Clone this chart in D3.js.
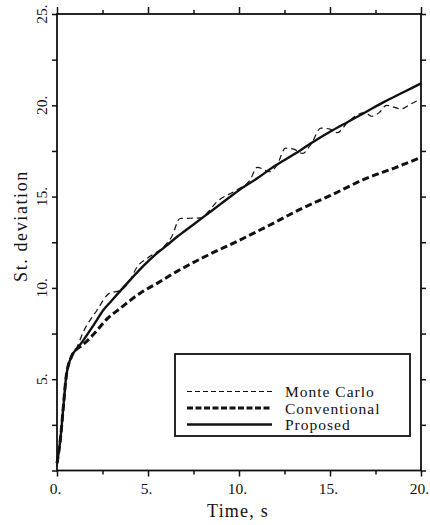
<!DOCTYPE html>
<html>
<head>
<meta charset="utf-8">
<script src="https://cdn.jsdelivr.net/npm/d3@7"></script>
<style>
  html, body { margin: 0; padding: 0; background: #fff; }
  svg { display: block; }
  text { font-family: "Liberation Serif", "DejaVu Serif", serif; fill: #111; }
</style>
</head>
<body>
<svg id="chart" width="430" height="525"></svg>
<script>
// Time axis (s) and standard deviation of the response for each method
const proposedTime = [0, 0.2, 0.35, 0.5, 0.8, 1.05, 1.2, 2, 2.56, 3, 3.85, 5, 5.5, 6, 6.6, 7, 8, 9, 10, 11, 12, 13, 14, 15, 16, 17, 18, 19, 20];
const proposedSd   = [0.4, 1.85, 3.5, 5.1, 6.25, 6.62, 6.8, 7.95, 8.8, 9.3, 10.25, 11.45, 11.9, 12.3, 12.8, 13.1, 13.85, 14.6, 15.35, 16.0, 16.7, 17.3, 17.95, 18.55, 19.1, 19.65, 20.2, 20.7, 21.2];

const conventionalTime = [0, 0.2, 0.35, 0.5, 0.8, 1.05, 1.3, 1.6, 2, 2.75, 3.5, 4.55, 5.5, 6.5, 8, 10, 12, 13.35, 15, 17, 18.5, 20];
const conventionalSd   = [0.4, 1.85, 3.5, 5.1, 6.25, 6.62, 6.8, 7.05, 7.45, 8.3, 8.9, 9.7, 10.25, 10.85, 11.65, 12.6, 13.6, 14.3, 15.05, 16.0, 16.55, 17.15];

const monteCarloTime = [0, 0.2, 0.35, 0.5, 0.8, 1.05, 1.45, 2.18, 2.9, 3.45, 3.95, 4.4, 5.0, 5.86, 6.3, 6.76, 7.86, 8.22, 8.77, 9.87, 10.6, 11.0, 11.7, 12.1, 12.55, 13.0, 13.5, 14.0, 14.5, 15.0, 15.4, 16.0, 16.9, 17.3, 17.7, 18.1, 18.5, 18.9, 19.4, 20];
const monteCarloSd   = [0.2, 1.85, 3.5, 5.1, 6.25, 6.65, 7.6, 8.75, 9.72, 9.85, 10.3, 11.15, 11.65, 12.25, 12.8, 13.8, 13.83, 14.08, 14.7, 15.36, 15.9, 16.6, 16.36, 16.75, 17.65, 17.6, 17.37, 17.95, 18.75, 18.7, 18.5, 19.1, 19.6, 19.4, 19.6, 20.0, 19.9, 19.8, 20.05, 20.35];

const xMajorTicks = [0, 5, 10, 15, 20];
const xMinorTicks = [2.5, 7.5, 12.5, 17.5];
const yMajorTicks = [0, 5, 10, 15, 20, 25];
const yLabelTicks = [5, 10, 15, 20, 25];
const yMinorTicks = [2.5, 7.5, 12.5, 17.5, 22.5];

const seriesNames = ["Monte Carlo", "Conventional", "Proposed"];

const svg = d3.select("#chart");
const plotLeft = 57, plotRight = 421, plotTop = 14, plotBottom = 470.5;

const x = d3.scaleLinear().domain([0, 20]).range([plotLeft, plotRight]);
const y = d3.scaleLinear().domain([0, 25]).range([plotBottom, plotTop]);

const ink = "#111";
const fmt = d => d + ".";

// frame
svg.append("rect")
  .attr("x", plotLeft).attr("y", plotTop)
  .attr("width", plotRight - plotLeft).attr("height", plotBottom - plotTop)
  .attr("fill", "none").attr("stroke", ink).attr("stroke-width", 1.8);

function styleAxis(g) {
  g.select(".domain").remove();
  g.selectAll(".tick line").attr("stroke", ink).attr("stroke-width", 1.5);
}

// bottom axis with labels
svg.append("g").attr("transform", `translate(0,${plotBottom})`)
  .call(d3.axisBottom(x).tickValues(xMajorTicks).tickSize(6).tickPadding(6).tickFormat(fmt))
  .call(styleAxis)
  .call(g => g.selectAll("text").attr("font-size", 15.5).attr("dx", -2)
      .attr("font-family", "Liberation Serif").attr("fill", ink));
svg.append("g").attr("transform", `translate(0,${plotBottom})`)
  .call(d3.axisBottom(x).tickValues(xMinorTicks).tickSize(4).tickFormat(""))
  .call(styleAxis);

// top axis ticks
svg.append("g").attr("transform", `translate(0,${plotTop})`)
  .call(d3.axisTop(x).tickValues(xMajorTicks).tickSize(7).tickFormat(""))
  .call(styleAxis);
svg.append("g").attr("transform", `translate(0,${plotTop})`)
  .call(d3.axisTop(x).tickValues(xMinorTicks).tickSize(4).tickFormat(""))
  .call(styleAxis);

// left axis ticks
svg.append("g").attr("transform", `translate(${plotLeft},0)`)
  .call(d3.axisLeft(y).tickValues(yMajorTicks).tickSize(5).tickFormat(""))
  .call(styleAxis);
svg.append("g").attr("transform", `translate(${plotLeft},0)`)
  .call(d3.axisLeft(y).tickValues(yMinorTicks).tickSize(5).tickFormat(""))
  .call(styleAxis);

// left axis labels, rotated
svg.append("g").selectAll("text").data(yLabelTicks).join("text")
  .attr("transform", d => `translate(47,${y(d)}) rotate(-90)`)
  .attr("text-anchor", "middle")
  .attr("font-size", 15.5)
  .text(fmt);

// right axis ticks
svg.append("g").attr("transform", `translate(${plotRight},0)`)
  .call(d3.axisRight(y).tickValues(yMajorTicks).tickSize(5).tickFormat(""))
  .call(styleAxis);
svg.append("g").attr("transform", `translate(${plotRight},0)`)
  .call(d3.axisRight(y).tickValues(yMinorTicks).tickSize(5).tickFormat(""))
  .call(styleAxis);

// axis titles
svg.append("text")
  .attr("x", 238).attr("y", 517)
  .attr("text-anchor", "middle")
  .attr("font-size", 18).attr("letter-spacing", 1.2)
  .text("Time, s");
svg.append("text")
  .attr("transform", "translate(27,226) rotate(-90)")
  .attr("text-anchor", "middle")
  .attr("font-size", 18).attr("letter-spacing", 1.6)
  .text("St. deviation");

// curves
const line = d3.line().x(d => x(d[0])).y(d => y(d[1])).curve(d3.curveMonotoneX);
const zip = (ts, vs) => ts.map((t, i) => [t, vs[i]]);

const styles = {
  "Monte Carlo":  { width: 1.2, dash: "6,4" },
  "Conventional": { width: 3.0, dash: "7,3.5" },
  "Proposed":     { width: 2.4, dash: null }
};
const series = [
  { name: "Conventional", pts: zip(conventionalTime, conventionalSd) },
  { name: "Monte Carlo",  pts: zip(monteCarloTime, monteCarloSd) },
  { name: "Proposed",     pts: zip(proposedTime, proposedSd) }
];

svg.append("g").selectAll("path").data(series).join("path")
  .attr("d", d => line(d.pts))
  .attr("fill", "none")
  .attr("stroke", ink)
  .attr("stroke-width", d => styles[d.name].width)
  .attr("stroke-dasharray", d => styles[d.name].dash)
  .attr("stroke-linejoin", "round");

// legend
const legend = svg.append("g");
legend.append("rect")
  .attr("x", 175).attr("y", 354).attr("width", 235).attr("height", 82)
  .attr("fill", "#fff").attr("stroke", ink).attr("stroke-width", 1.8);

const legendY = d3.scalePoint().domain(seriesNames).range([391.5, 424.5]);
const rows = legend.selectAll("g.row").data(seriesNames).join("g").attr("class", "row");
rows.append("line")
  .attr("x1", 187).attr("x2", 272)
  .attr("y1", d => legendY(d)).attr("y2", d => legendY(d))
  .attr("stroke", ink)
  .attr("stroke-width", d => styles[d].width)
  .attr("stroke-dasharray", d => d === "Monte Carlo" ? "5,3" : styles[d].dash ? "6,2.5" : null);
rows.append("text")
  .attr("x", 285).attr("y", d => legendY(d) + 5.5)
  .attr("font-size", 15.5).attr("letter-spacing", 1)
  .text(d => d);
</script>
</body>
</html>
